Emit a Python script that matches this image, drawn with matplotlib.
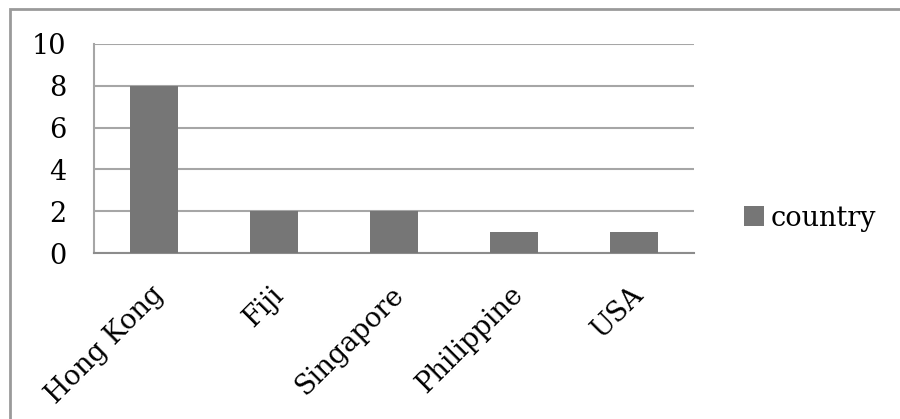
import matplotlib
matplotlib.use("Agg")
import matplotlib.pyplot as plt
from matplotlib.patches import Rectangle
import matplotlib.transforms as mtransforms

categories = ["Hong Kong", "Fiji", "Singapore", "Philippine", "USA"]
values = [8, 2, 2, 1, 1]
yticks = [0, 2, 4, 6, 8, 10]
series_name = "country"

W, H = 900, 419
fig = plt.figure(figsize=(W / 100, H / 100), dpi=100)
plt.rcParams['font.family'] = ['DejaVu Serif']
FS = 19.5

# outer chart border (right and bottom edges run off the image)
fig.patches.append(Rectangle((10 / W, -0.2), 1.2, 1.2 - 9 / H, transform=fig.transFigure,
                             fill=False, edgecolor="#9a9a9a", linewidth=2, zorder=0))

ax = fig.add_axes([94 / W, (H - 253) / H, 600 / W, 209 / H])
x = range(len(categories))
ax.bar(x, values, width=0.4, color="#767676", zorder=3, label=series_name)
ax.set_xlim(-0.5, len(categories) - 0.5)
ax.set_ylim(0, 10)
ax.set_yticks(yticks)
ax.set_yticklabels([str(v) for v in yticks], fontsize=FS)
ax.grid(axis="y", color="#a6a6a6", linewidth=1.5, zorder=0)
ax.set_xticks(list(x))
ax.set_xticklabels(categories, rotation=45, ha="right", rotation_mode="anchor", fontsize=FS)
ax.tick_params(axis="both", length=0)
ax.tick_params(axis="y", pad=20)
ax.tick_params(axis="x", pad=20)
offset = mtransforms.ScaledTranslation(-4 / 100, 0, fig.dpi_scale_trans)
for lbl in ax.get_xticklabels():
    lbl.set_transform(lbl.get_transform() + offset)
for s in ["top", "right"]:
    ax.spines[s].set_visible(False)
ax.spines["left"].set_color("#a6a6a6")
ax.spines["left"].set_linewidth(1.5)
ax.spines["bottom"].set_color("#8c8c8c")
ax.spines["bottom"].set_linewidth(1.5)

fig.legend(loc="center left", bbox_to_anchor=(744 / W, 1 - 218 / H), frameon=False,
           fontsize=FS, handlelength=0.75, handleheight=0.75, handletextpad=0.25,
           borderaxespad=0, borderpad=0)

fig.savefig("out.png", dpi=100)
